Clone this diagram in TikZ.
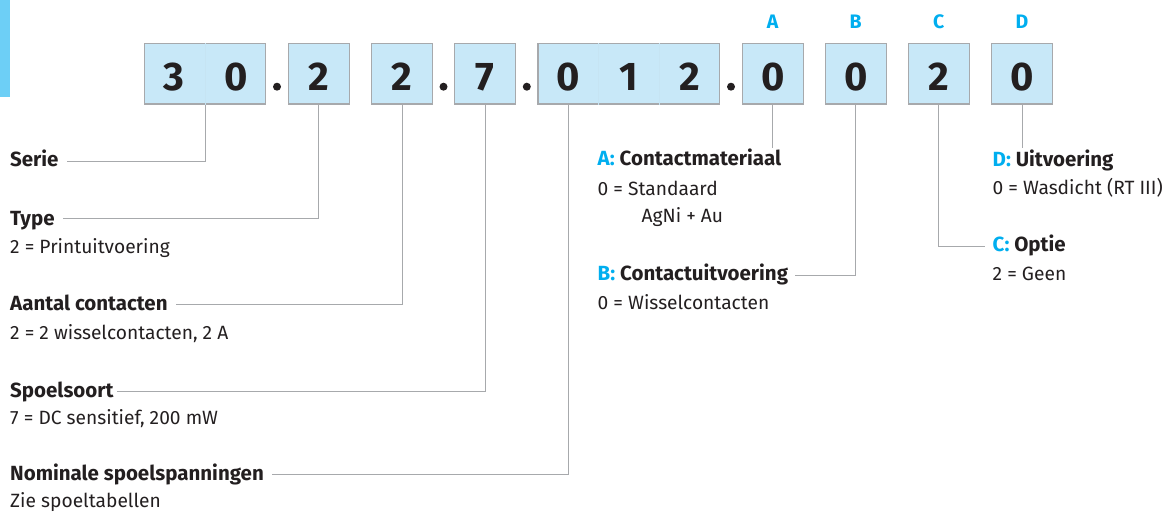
\documentclass[tikz,border=0pt]{standalone}
\usepackage{fontspec}
\setmainfont{Fira Sans}
\usetikzlibrary{calc}
\definecolor{boxfill}{HTML}{C8E8F8}
\definecolor{boxline}{HTML}{A7A9AC}
\definecolor{connline}{HTML}{A7A9AC}
\definecolor{ink}{HTML}{231F20}
\definecolor{cyanlbl}{HTML}{00AEEF}
\definecolor{tabblue}{HTML}{6DCFF6}
\tikzset{
  cell/.style={draw=boxline, fill=boxfill, line width=1.1pt, inner sep=0pt, minimum height=60.7pt},
  divider/.style={draw=boxfill!93!boxline, line width=0.7pt},
  digit/.style={font=\fontsize{40}{42}\selectfont\bfseries, text=ink, anchor=base, inner sep=0pt},
  letter/.style={font=\fontsize{19.5}{20}\selectfont\bfseries, text=cyanlbl, anchor=base, inner sep=0pt},
  head/.style={font=\fontsize{20.5}{24}\selectfont\bfseries, text=ink, anchor=base west, inner sep=0pt},
  desc/.style={font=\fontsize{19.2}{24}\selectfont, text=ink, anchor=base west, inner sep=0pt},
  sepdot/.style={circle, fill=ink, minimum size=8pt, inner sep=0pt},
  link/.style={draw=connline, line width=1pt}
}
\begin{document}
\begin{tikzpicture}[x=1pt,y=-1pt]
\useasboundingbox (0,0) rectangle (1166,514);
\fill[tabblue] (0,0) rectangle (10,97);

% boxes
\node[cell, minimum width=121pt]   (b30)  at (205.2,73.65) {};
\node[cell, minimum width=61pt]    (b2a)  at (318.8,73.65) {};
\node[cell, minimum width=61pt]    (b2b)  at (402.0,73.65) {};
\node[cell, minimum width=61pt]    (b7)   at (485.2,73.65) {};
\node[cell, minimum width=181.7pt] (b012) at (628.85,73.65) {};
\node[cell, minimum width=61pt]    (bA)   at (772.7,73.65) {};
\node[cell, minimum width=61pt]    (bB)   at (855.7,73.65) {};
\node[cell, minimum width=61pt]    (bC)   at (938.8,73.65) {};
\node[cell, minimum width=61pt]    (bD)   at (1022.0,73.65) {};

\draw[divider] (b30.north) -- (b30.south);
\draw[divider] ($(b012.north west)!1/3!(b012.north east)$) -- ($(b012.south west)!1/3!(b012.south east)$);
\draw[divider] ($(b012.north west)!2/3!(b012.north east)$) -- ($(b012.south west)!2/3!(b012.south east)$);

% digits
\node[digit] (n3)  at (173.5,90.7) {3};
\node[digit] (n0a) at (236.2,90.7) {0};
\node[digit] (n2a) at (318.8,90.7) {2};
\node[digit] (n2b) at (402.0,90.7) {2};
\node[digit] (n7)  at (485.2,90.7) {7};
\node[digit] (n0b) at (568.3,90.7) {0};
\node[digit] (n1)  at (629.0,90.7) {1};
\node[digit] (n2c) at (689.5,90.7) {2};
\node[digit] (nA)  at (772.7,90.7) {0};
\node[digit] (nB)  at (855.7,90.7) {0};
\node[digit] (nC)  at (938.8,90.7) {2};
\node[digit] (nD)  at (1022.0,90.7) {0};

% separator dots
\node[sepdot] (p1) at (277.0,86.7) {};
\node[sepdot] (p2) at (443.5,86.7) {};
\node[sepdot] (p3) at (526.8,86.7) {};
\node[sepdot] (p4) at (731.0,86.7) {};

% letters
\node[letter] (lA) at (772.7,28.3) {A};
\node[letter] (lB) at (855.7,28.3) {B};
\node[letter] (lC) at (938.8,28.3) {C};
\node[letter] (lD) at (1022.0,28.3) {D};

% left labels
\node[head] (serie) at (10,166) {Serie};
\node[head] (type)  at (10,225) {Type};
\node[desc] (typed) at (10,253) {2 = Printuitvoering};
\node[head] (aant)  at (10,310) {Aantal contacten};
\node[desc] (aantd) at (10,339) {2 = 2 wisselcontacten, 2 A};
\node[head] (spoel) at (10,397) {Spoelsoort};
\node[desc] (spoeld) at (10,424) {7 = DC sensitief, 200 mW};
\node[head] (nomi)  at (10,480) {Nominale spoelspanningen};
\node[desc] (nomid) at (10,507) {Zie spoeltabellen};

% right labels
\node[head] (hA)  at (597.5,165) {\textcolor{cyanlbl}{A:} Contactmateriaal};
\node[desc] (dA1) at (597.5,195) {0 = Standaard};
\node[desc] (dA2) at (641.5,222) {AgNi + Au};
\node[head] (hB)  at (597.5,280.7) {\textcolor{cyanlbl}{B:} Contactuitvoering};
\node[desc] (dB)  at (597.5,309) {0 = Wisselcontacten};
\node[head] (hD)  at (992.5,166) {\textcolor{cyanlbl}{D:} Uitvoering};
\node[desc] (dD)  at (992.5,194.3) {0 = Wasdicht (RT III)};
\node[head] (hC)  at (992.5,251.7) {\textcolor{cyanlbl}{C:} Optie};
\node[desc] (dC)  at (992.5,280) {2 = Geen};

\coordinate (aEnd) at (772.7,148.3);
\coordinate (dEnd) at (1022.0,148.3);

% connectors
\draw[link] (b30.south) |- ([xshift=8pt,yshift=5pt]serie.base east);
\draw[link] (b2a.south) |- ([xshift=8pt,yshift=6.5pt]type.base east);
\draw[link] (b2b.south) |- ([xshift=8pt,yshift=6pt]aant.base east);
\draw[link] (b7.south)  |- ([xshift=3pt,yshift=5.5pt]spoel.base east);
\draw[link] (b012.south -| n0b) |- ([xshift=8pt,yshift=6pt]nomi.base east);
\draw[link] (bA.south) -- (aEnd);
\draw[link] (bB.south) |- ([xshift=7pt,yshift=5.7pt]hB.base east);
\draw[link] (bC.south) |- ([xshift=-8pt,yshift=5.7pt]hC.base west);
\draw[link] (bD.south) -- (dEnd);
\end{tikzpicture}
\end{document}
